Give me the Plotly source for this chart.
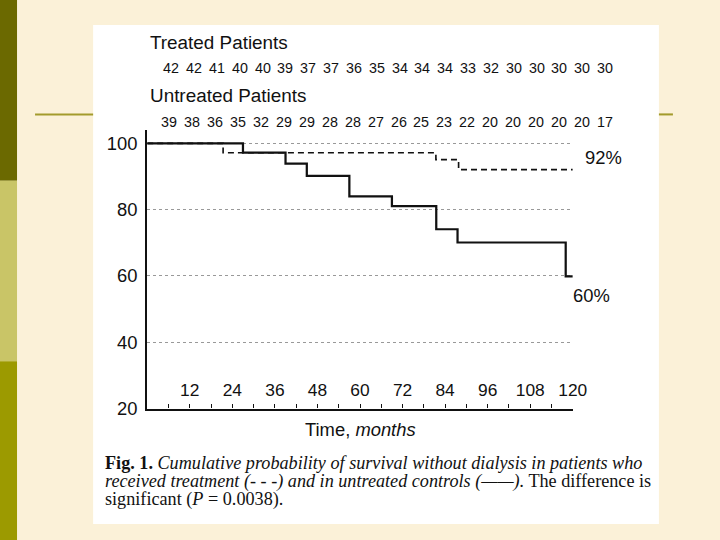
import plotly.graph_objects as go

# ---- data ----
untreated_months = [0, 27, 39, 45, 57, 69, 81.5, 87.5, 118, 120]
untreated_surv = [100, 97.2, 93.9, 90.2, 84.0, 81.1, 74.1, 70.1, 59.9, 59.9]
treated_months = [0, 21.4, 81.4, 87.8, 120]
treated_surv = [100, 97.2, 95.1, 92.1, 92.1]
treated_at_risk = [42, 42, 41, 40, 40, 39, 37, 37, 36, 35, 34, 34, 34, 33, 32, 30, 30, 30, 30, 30]
untreated_at_risk = [39, 38, 36, 35, 32, 29, 29, 28, 28, 27, 26, 25, 23, 22, 20, 20, 20, 20, 20, 17]
x_tick_vals = [12, 24, 36, 48, 60, 72, 84, 96, 108, 120]
y_tick_vals = [20, 40, 60, 80, 100]
end_labels = ["92%", "60%"]

S = 1.0215  # compensation for the capture scaling
W0, H0 = 720, 540
W, H = round(W0 * S), round(H0 * S)
def px(x): return x / W0
def py(y): return 1 - y / H0
def f(v): return v * S

fig = go.Figure()
fig.add_trace(go.Scatter(x=treated_months, y=treated_surv, mode="lines",
                         line=dict(shape="hv", color="#111", width=f(1.6), dash="%dpx,%dpx" % (round(f(6)), round(f(4)))),
                         showlegend=False, hoverinfo="skip"))
fig.add_trace(go.Scatter(x=untreated_months, y=untreated_surv, mode="lines",
                         line=dict(shape="hv", color="#111", width=f(2.2)),
                         showlegend=False, hoverinfo="skip"))

shapes = [
    dict(type="rect", xref="paper", yref="paper", x0=px(93), x1=px(658), y0=py(522), y1=py(25),
         fillcolor="white", line=dict(width=0), layer="below"),
    dict(type="rect", xref="paper", yref="paper", x0=0, x1=px(17), y0=py(180), y1=1,
         fillcolor="#6B6900", line=dict(width=0), layer="below"),
    dict(type="rect", xref="paper", yref="paper", x0=0, x1=px(17), y0=py(360), y1=py(180),
         fillcolor="#C9C567", line=dict(width=0), layer="below"),
    dict(type="rect", xref="paper", yref="paper", x0=0, x1=px(17), y0=0, y1=py(360),
         fillcolor="#9C9A00", line=dict(width=0), layer="below"),
    dict(type="line", xref="paper", yref="paper", x0=px(35), x1=px(93), y0=py(114), y1=py(114),
         line=dict(color="#A39B2C", width=f(2)), layer="below"),
    dict(type="line", xref="paper", yref="paper", x0=px(658), x1=px(672), y0=py(114), y1=py(114),
         line=dict(color="#A39B2C", width=f(2)), layer="below"),
]

ann = []
sans = "Liberation Sans, Arial, sans-serif"
serif = "Liberation Serif, Times New Roman, serif"
def A(text, x, y, size, family=sans, xanchor="center"):
    ann.append(dict(text=text, x=px(x), y=py(y), xref="paper", yref="paper",
                    xanchor=xanchor, yanchor="middle", showarrow=False,
                    font=dict(family=family, size=f(size), color="#111")))

A("Treated Patients", 148, 42, 18.5, xanchor="left")
A("Untreated Patients", 148, 95, 18.5, xanchor="left")
for i, v in enumerate(treated_at_risk):
    A(str(v), 171 + i * 22.8, 68, 14)
for i, v in enumerate(untreated_at_risk):
    A(str(v), 169 + i * 22.9, 122, 14)
A(end_labels[0], 603, 157, 18)
A(end_labels[1], 591, 294, 18)
A("Time, <i>months</i>", 360, 428, 18)
cap = ["<b>Fig. 1.</b> <i>Cumulative probability of survival without dialysis in patients who</i>",
       "<i>received treatment (- - -) and in untreated controls (——).</i> The difference is",
       "significant (<i>P</i> = 0.0038)."]
for j, line in enumerate(cap):
    A(line, 103, 461 + j * 18.5, 17.8, family=serif, xanchor="left")

fig.update_layout(
    width=W, height=H, margin=dict(l=0, r=0, t=0, b=0),
    paper_bgcolor="#FBF1D8", plot_bgcolor="rgba(0,0,0,0)",
    shapes=shapes, annotations=ann,
    xaxis=dict(domain=[px(147), px(572)], range=[0, 120], tickvals=x_tick_vals,
               ticks="inside", ticklen=round(f(4)), tickcolor="#111", showline=True, linecolor="#111", linewidth=f(2),
               ticklabelposition="outside", ticklabelstandoff=-round(f(34)), showgrid=False, zeroline=False,
               minor=dict(dtick=6, tick0=0, ticks="inside", ticklen=round(f(4)), tickcolor="#111"),
               tickfont=dict(family=sans, size=f(17), color="#111")),
    yaxis=dict(domain=[py(407), py(129.7)], range=[20, 104], tickvals=y_tick_vals,
               showline=True, linecolor="#111", linewidth=f(2), ticks="", ticklabelstandoff=round(f(4)),
               showgrid=True, gridcolor="#999", griddash="dot", gridwidth=1, zeroline=False,
               tickfont=dict(family=sans, size=f(18), color="#111")),
)
js = "document.documentElement.style.margin='0';document.body.style.margin='0';"
fig.write_html("out.html", config={"displayModeBar": False}, post_script=js)
